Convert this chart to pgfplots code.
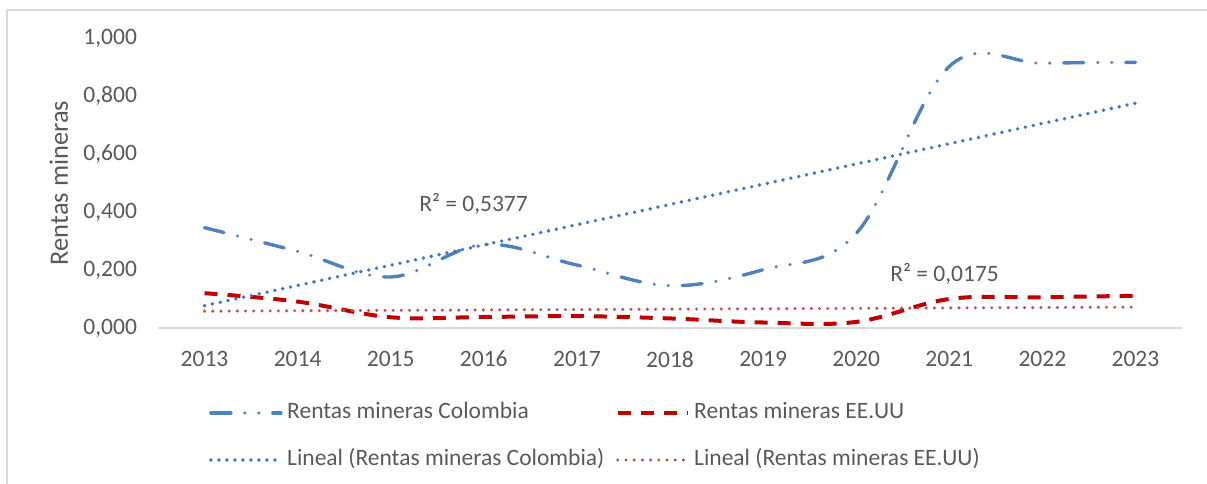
\documentclass[border=0pt]{standalone}
\usepackage{fontspec}
\setmainfont{Carlito}
\usepackage{pgfplots}
\pgfplotsset{compat=1.18}
\definecolor{txt}{HTML}{595959}
\definecolor{gridc}{HTML}{D9D9D9}
\definecolor{colb}{HTML}{4F81BD}
\definecolor{colt}{HTML}{4472C4}
\definecolor{usr}{HTML}{C00000}
\definecolor{ust}{HTML}{C0504D}
\begin{document}
\begin{tikzpicture}[font=\fontsize{11.75bp}{14bp}\selectfont]
\path[use as bounding box] (-79bp,-78bp) rectangle (524.5bp,164bp);
\draw[gridc, line width=0.75bp] (-75.5bp,-80bp) -- (-75.5bp,159bp) -- (530bp,159bp);
\begin{axis}[
  at={(0,0)}, anchor=south west,
  scale only axis, width=512bp, height=145bp,
  xmin=2012.5, xmax=2023.5, ymin=0, ymax=1,
  axis x line=bottom, axis y line=left,
  axis line style={-},
  x axis line style={draw=gridc, line width=0.75bp},
  y axis line style={draw=none},
  major tick length=0pt,
  xtick={2013,2014,2015,2016,2017,2018,2019,2020,2021,2022,2023},
  ytick={0,0.2,0.4,0.6,0.8,1},
  xticklabel={\pgfmathprintnumber[1000 sep={}]{\tick}},
  yticklabel={\pgfmathprintnumber[fixed, fixed zerofill, precision=3, use comma]{\tick}},
  x tick label style={text=txt, yshift=-8bp},
  y tick label style={text=txt, xshift=-7bp},
  /pgf/number format/assume math mode=true,
  ylabel={Rentas mineras},
  ylabel style={at={(axis description cs:-0.0879,0.5)}, anchor=base, text=txt, font=\fontsize{13.25bp}{16bp}\selectfont},
  legend columns=2,
  legend cell align=left,
  legend style={at={(0.0498,-0.230)}, anchor=north west, draw=none, fill=none,
    inner sep=0pt, outer sep=0pt, row sep=5.2bp,
    /tikz/every even column/.append style={column sep=3.5bp},
    nodes={text=txt, inner ysep=3.9bp, inner xsep=2.2bp, text height=8bp, text depth=2.5bp}},
  legend image code/.code={\draw[#1] (0bp,0bp) -- (35bp,0bp);},
]
\addplot[colb, line width=1.7bp, line cap=round, dash pattern=on 10bp off 7bp on 0bp off 7bp on 0bp off 7bp, smooth, tension=0.6]
  coordinates {(2013,0.346) (2014,0.264) (2015,0.176) (2016,0.288) (2017,0.217) (2018,0.146) (2019,0.201) (2020,0.326) (2021,0.902) (2022,0.913) (2023,0.916)};
\addlegendentry{Rentas mineras Colombia}
\addplot[usr, line width=2bp, dash pattern=on 6.5bp off 5bp, smooth, tension=0.6]
  coordinates {(2013,0.120) (2014,0.091) (2015,0.037) (2016,0.038) (2017,0.041) (2018,0.033) (2019,0.019) (2020,0.021) (2021,0.100) (2022,0.106) (2023,0.111)};
\addlegendentry{Rentas mineras EE.UU}
\addplot[colt, line width=1.9bp, line cap=round, dash pattern=on 0bp off 4bp]
  coordinates {(2013,0.077) (2023,0.775)};
\addlegendentry{Lineal (Rentas mineras Colombia)}
\addplot[ust, line width=1.7bp, line cap=round, dash pattern=on 0bp off 4.1bp]
  coordinates {(2013,0.058) (2023,0.072)};
\addlegendentry{Lineal (Rentas mineras EE.UU)}
\node[text=txt, anchor=base] at (axis cs:2015.89,0.403) {R² = 0,5377};
\node[text=txt, anchor=base] at (axis cs:2020.95,0.160) {R² = 0,0175};
\end{axis}
\end{tikzpicture}
\end{document}
